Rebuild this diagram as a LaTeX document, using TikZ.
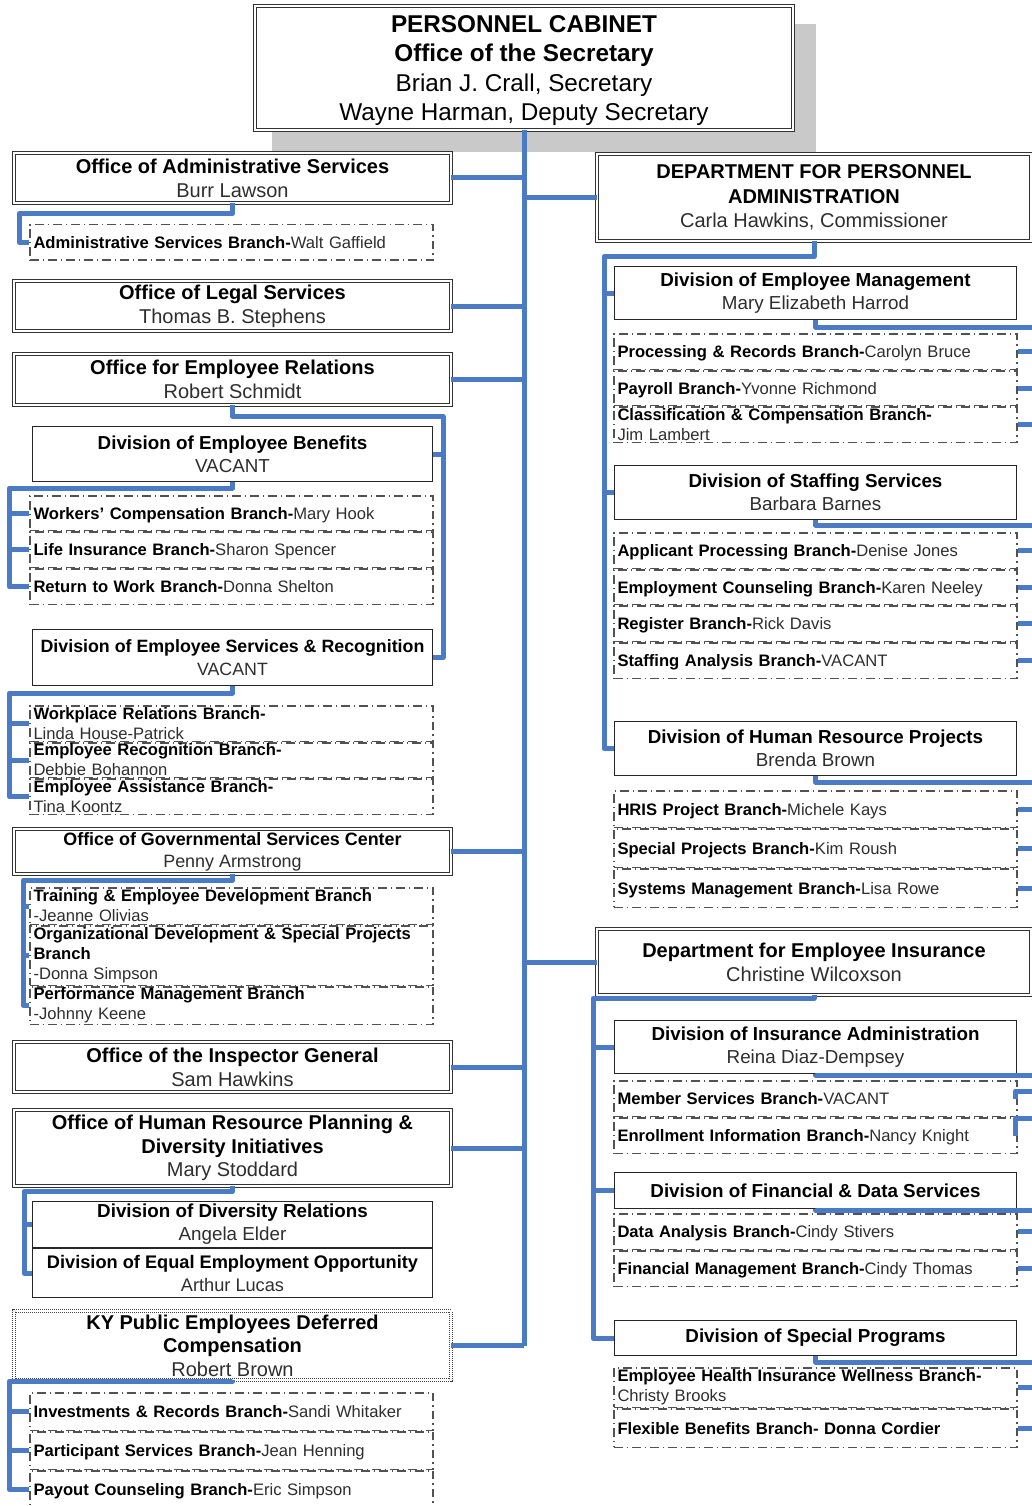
\documentclass[tikz,border=0pt]{standalone}
\usepackage{fontspec}
\setmainfont{Liberation Sans}
\definecolor{linkblue}{HTML}{4A7BC4}
\definecolor{nm}{HTML}{2E2E2E}
\newcommand\fsTop{\fontsize{24.3}{29.5}\selectfont}
\newcommand\fsOff{\fontsize{20}{24}\selectfont}
\newcommand\fsGov{\fontsize{17.9}{22}\selectfont}
\newcommand\fsDiv{\fontsize{18.8}{23}\selectfont}
\newcommand\fsBr{\fontsize{16.6}{20}\selectfont}
% inset, style, name, x1, y1, x2, y2, text
\newcommand\placebox[8][4]{\node[#2, minimum width={#6-#4-#1}, minimum height={#7-#5-#1}] (#3) at ({(#4+#6)/2},{(#5+#7)/2}) {#8};}
% [extra style], name, x1, y1, y2, text
\newcommand\branchrow[6][oneline]{\node[brbox, #1, minimum height={#5-#4-1.5}] (#2) at ({#3+201.5},{(#4+#5)/2}) {#6};}
\begin{document}
\begin{tikzpicture}[x=1pt,y=-1pt,
  link/.style={draw=linkblue, line width=5pt, line join=round},
  dbox/.style={draw=black!80, double, double distance=2.4pt, line width=0.8pt, fill=white, inner sep=0pt, align=center, text=black},
  kybox/.style={draw=black!75, double, double distance=2.4pt, line width=0.9pt, dash pattern=on 1pt off 1pt, fill=white, inner sep=0pt, align=center},
  sbox/.style={draw=black!85, line width=1pt, fill=white, inner sep=0pt, align=center},
  brbox/.style={draw=black!68, line width=1.5pt, dash pattern=on 8.5pt off 4pt on 1.5pt off 4pt, inner xsep=3.5pt, inner ysep=0pt, text width=396pt, align=left, font=\fsBr},
  oneline/.style={text depth=0pt},
  multiline/.style={}
]
\useasboundingbox (0,0) rectangle (1032,1506);
\clip (0,0) rectangle (1032,1506);
\fill[white] (0,0) rectangle (1032,1506);
% shadow of the top box
\fill[black!21] (272,24) rectangle (816,152);

% top box
\placebox{dbox, font=\fsTop, text depth=0pt}{top}{253}{4}{795}{132}{\textbf{PERSONNEL CABINET}\\\textbf{Office of the Secretary}\\Brian J. Crall, Secretary\\Wayne Harman, Deputy Secretary}

% left offices
\placebox{dbox, font=\fsOff}{oas}{12}{151}{453}{205}{\textbf{Office of Administrative Services}\\\textcolor{nm}{Burr Lawson}}
\placebox{dbox, font=\fsOff}{ols}{12}{279}{453}{333}{\textbf{Office of Legal Services}\\\textcolor{nm}{Thomas B. Stephens}}
\placebox{dbox, font=\fsOff}{oer}{12}{352}{453}{407}{\textbf{Office for Employee Relations}\\\textcolor{nm}{Robert Schmidt}}
\placebox{dbox, font=\fsGov}{ogs}{12}{827}{453}{876}{\textbf{Office of Governmental Services Center}\\\textcolor{nm}{Penny Armstrong}}
\placebox{dbox, font=\fsOff}{oig}{12}{1040}{453}{1094}{\textbf{Office of the Inspector General}\\\textcolor{nm}{Sam Hawkins}}
\placebox{dbox, font=\fontsize{20}{23.5}\selectfont}{ohr}{12}{1108}{453}{1188}{\textbf{Office of Human Resource Planning \&}\\\textbf{Diversity Initiatives}\\\textcolor{nm}{Mary Stoddard}}
\placebox{kybox, font=\fontsize{20}{23.5}\selectfont}{ky}{12}{1309}{453}{1382}{\textbf{KY Public Employees Deferred}\\\textbf{Compensation}\\\textcolor{nm}{Robert Brown}}

% left divisions
\placebox[1]{sbox, font=\fsDiv}{deb}{32}{426}{433}{482}{\textbf{Division of Employee Benefits}\\\textcolor{nm}{VACANT}}
\placebox[1]{sbox, font=\fontsize{17.8}{23}\selectfont}{des}{32}{629}{433}{686}{\textbf{Division of Employee Services \& Recognition}\\\textcolor{nm}{VACANT}}
\placebox[1]{sbox, font=\fsDiv}{ddr}{32}{1201}{433}{1248}{\textbf{Division of Diversity Relations}\\\textcolor{nm}{Angela Elder}}
\placebox[1]{sbox, font=\fontsize{18.2}{23}\selectfont}{eeo}{32}{1248}{433}{1298}{\textbf{Division of Equal Employment Opportunity}\\\textcolor{nm}{Arthur Lucas}}

% left branches
\branchrow{asb}{30}{224}{261}{\textbf{Administrative Services Branch-}\textcolor{nm}{Walt Gaffield}}
\branchrow{wc}{30}{495}{531}{\textbf{Workers’ Compensation Branch-}\textcolor{nm}{Mary Hook}}
\branchrow{li}{30}{531}{568}{\textbf{Life Insurance Branch-}\textcolor{nm}{Sharon Spencer}}
\branchrow{rw}{30}{568}{605}{\textbf{Return to Work Branch-}\textcolor{nm}{Donna Shelton}}
\branchrow[multiline]{wr}{30}{705}{742}{\textbf{Workplace Relations Branch-}\\\textcolor{nm}{Linda House-Patrick}}
\branchrow[multiline]{er}{30}{742}{778}{\textbf{Employee Recognition Branch-}\\\textcolor{nm}{Debbie Bohannon}}
\branchrow[multiline]{ea}{30}{778}{815}{\textbf{Employee Assistance Branch-}\\\textcolor{nm}{Tina Koontz}}
\branchrow[multiline]{td}{30}{887}{925}{\textbf{Training \& Employee Development Branch}\\\textcolor{nm}{-Jeanne Olivias}}
\branchrow[multiline]{od}{30}{925}{986}{\textbf{Organizational Development \& Special Projects}\\\textbf{Branch}\\\textcolor{nm}{-Donna Simpson}}
\branchrow[multiline]{pm}{30}{986}{1025}{\textbf{Performance Management Branch}\\\textcolor{nm}{-Johnny Keene}}
\branchrow{ir}{30}{1392}{1431}{\textbf{Investments \& Records Branch-}\textcolor{nm}{Sandi Whitaker}}
\branchrow{ps}{30}{1431}{1470}{\textbf{Participant Services Branch-}\textcolor{nm}{Jean Henning}}
\branchrow{pc}{30}{1470}{1509}{\textbf{Payout Counseling Branch-}\textcolor{nm}{Eric Simpson}}

% right departments
\placebox{dbox, font=\fontsize{20}{24.5}\selectfont}{dpa}{595}{152}{1033}{243}{\textbf{DEPARTMENT FOR PERSONNEL}\\\textbf{ADMINISTRATION}\\\textcolor{nm}{Carla Hawkins, Commissioner}}
\placebox{dbox, font=\fsOff}{dei}{595}{927}{1033}{997}{\textbf{Department for Employee Insurance}\\\textcolor{nm}{Christine Wilcoxson}}

% right divisions
\placebox[1]{sbox, font=\fsDiv}{dem}{614}{266}{1017}{320}{\textbf{Division of Employee Management}\\\textcolor{nm}{Mary Elizabeth Harrod}}
\placebox[1]{sbox, font=\fsDiv}{dss}{614}{465}{1017}{520}{\textbf{Division of Staffing Services}\\\textcolor{nm}{Barbara Barnes}}
\placebox[1]{sbox, font=\fsDiv}{dhr}{614}{721}{1017}{776}{\textbf{Division of Human Resource Projects}\\\textcolor{nm}{Brenda Brown}}
\placebox[1]{sbox, font=\fsDiv}{dia}{614}{1020}{1017}{1074}{\textbf{Division of Insurance Administration}\\\textcolor{nm}{Reina Diaz-Dempsey}}
\placebox[1]{sbox, font=\fsDiv}{dfd}{614}{1172}{1017}{1209}{\textbf{Division of Financial \& Data Services}}
\placebox[1]{sbox, font=\fsDiv}{dsp}{614}{1320}{1017}{1356}{\textbf{Division of Special Programs}}

% right branches
\branchrow{pr}{614}{333}{370}{\textbf{Processing \& Records Branch-}\textcolor{nm}{Carolyn Bruce}}
\branchrow{py}{614}{370}{406}{\textbf{Payroll Branch-}\textcolor{nm}{Yvonne Richmond}}
\branchrow[multiline]{cc}{614}{406}{443}{\textbf{Classification \& Compensation Branch-}\\\textcolor{nm}{Jim Lambert}}
\branchrow{ap}{614}{532}{569}{\textbf{Applicant Processing Branch-}\textcolor{nm}{Denise Jones}}
\branchrow{ec}{614}{569}{605}{\textbf{Employment Counseling Branch-}\textcolor{nm}{Karen Neeley}}
\branchrow{rb}{614}{605}{642}{\textbf{Register Branch-}\textcolor{nm}{Rick Davis}}
\branchrow{sa}{614}{642}{679}{\textbf{Staffing Analysis Branch-}\textcolor{nm}{VACANT}}
\branchrow{hp}{614}{790}{828}{\textbf{HRIS Project Branch-}\textcolor{nm}{Michele Kays}}
\branchrow{spb}{614}{828}{868}{\textbf{Special Projects Branch-}\textcolor{nm}{Kim Roush}}
\branchrow{sm}{614}{868}{908}{\textbf{Systems Management Branch-}\textcolor{nm}{Lisa Rowe}}
\branchrow{ms}{614}{1080}{1117}{\textbf{Member Services Branch-}\textcolor{nm}{VACANT}}
\branchrow{en}{614}{1117}{1154}{\textbf{Enrollment Information Branch-}\textcolor{nm}{Nancy Knight}}
\branchrow{da}{614}{1213}{1250}{\textbf{Data Analysis Branch-}\textcolor{nm}{Cindy Stivers}}
\branchrow{fm}{614}{1250}{1287}{\textbf{Financial Management Branch-}\textcolor{nm}{Cindy Thomas}}
\branchrow[multiline]{eh}{614}{1367}{1408}{\textbf{Employee Health Insurance Wellness Branch-}\\\textcolor{nm}{Christy Brooks}}
\branchrow{fb}{614}{1408}{1448}{\textbf{Flexible Benefits Branch- Donna Cordier}}

% ---------- connectors ----------
% trunk
\draw[link] (top.south) -- (top.south |- ky.east);
\foreach \o in {oas,ols,oer,ogs,oig,ohr,ky}{\draw[link] (\o.east) -- (\o.east -| top.south);}
\foreach \o in {dpa,dei}{\draw[link] (top.south |- \o.west) -- (\o.west);}

% left subtrees
\draw[link] (oas.south) -- ++(0,10) -| ([xshift=-10pt]asb.west) -- (asb.west);
\draw[link] (oer.south) -- ++(0,11) -| ([xshift=10pt]des.east) -- (des.east);
\draw[link] ([xshift=10pt]deb.east) -- (deb.east);
\draw[link] (deb.south) -- ++(0,6) -| ([xshift=-20pt]rw.west) -- (rw.west);
\foreach \b in {wc,li}{\draw[link] ([xshift=-20pt]\b.west) -- (\b.west);}
\draw[link] (des.south) -- ++(0,7) -| ([xshift=-20pt]ea.west) -- (ea.west);
\foreach \b in {wr,er}{\draw[link] ([xshift=-20pt]\b.west) -- (\b.west);}
\draw[link] (ogs.south) -- ++(0,6) -| ([xshift=-6pt]pm.west) -- (pm.west);
\foreach \b in {td,od}{\draw[link] ([xshift=-6pt]\b.west) -- (\b.west);}
\draw[link] (ohr.south) -- ++(0,5) -| ([xshift=-8pt]eeo.west) -- (eeo.west);
\draw[link] ([xshift=-8pt]ddr.west) -- (ddr.west);
\draw[link] (ky.south) -- ++(0,1) -| ([xshift=-20pt]pc.west) -- (pc.west);
\foreach \b in {ir,ps}{\draw[link] ([xshift=-20pt]\b.west) -- (\b.west);}

% right subtrees
\draw[link] (dpa.south) -- ++(0,15) -| ([xshift=-10pt]dhr.west) -- (dhr.west);
\foreach \b in {dem,dss}{\draw[link] ([xshift=-10pt]\b.west) -- (\b.west);}
\draw[link] (dem.south) -- ++(0,7) -| ([xshift=28pt]cc.east) -- (cc.east);
\foreach \b in {pr,py}{\draw[link] ([xshift=28pt]\b.east) -- (\b.east);}
\draw[link] (dss.south) -- ++(0,5) -| ([xshift=28pt]sa.east) -- (sa.east);
\foreach \b in {ap,ec,rb}{\draw[link] ([xshift=28pt]\b.east) -- (\b.east);}
\draw[link] (dhr.south) -- ++(0,6) -| ([xshift=28pt]sm.east) -- (sm.east);
\foreach \b in {hp,spb}{\draw[link] ([xshift=28pt]\b.east) -- (\b.east);}
\draw[link] (dei.south) -- ++(0,3) -| ([xshift=-21pt]dsp.west) -- (dsp.west);
\foreach \b in {dia,dfd}{\draw[link] ([xshift=-21pt]\b.west) -- (\b.west);}
\draw[link] (dia.south) -- ++(0,1) -| ([xshift=28pt,yshift=17.5pt]en.east) -- ([xshift=-2pt,yshift=17.5pt]en.east) -- ([xshift=-2pt]en.east);
\draw[link] (ms.east) ++(28,-7.5) -- ++(-30,0) -- ([xshift=-2pt]ms.east);
\draw[link] (dfd.south) -- ++(0,1) -| ([xshift=28pt]fm.east) -- (fm.east);
\draw[link] ([xshift=28pt]da.east) -- (da.east);
\draw[link] (dsp.south) -- ++(0,6) -| ([xshift=28pt]fb.east) -- (fb.east);
\draw[link] ([xshift=28pt]eh.east) -- (eh.east);
\end{tikzpicture}
\end{document}
